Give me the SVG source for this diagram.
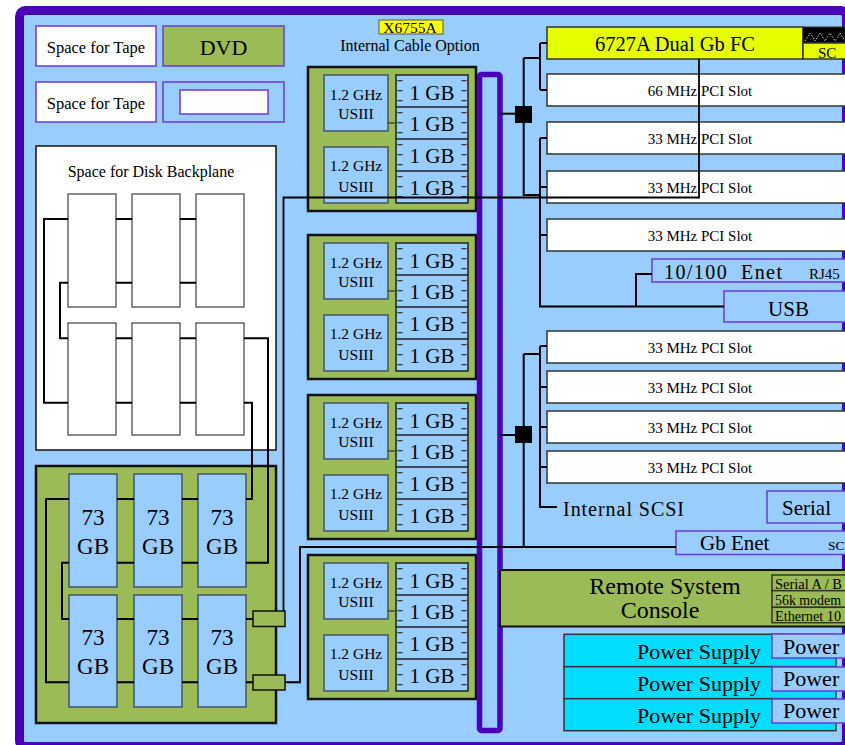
<svg xmlns="http://www.w3.org/2000/svg" width="845" height="745" viewBox="0 0 845 745">
<style>
text{font-family:"Liberation Serif","Times New Roman",serif;fill:#000}
.c{text-anchor:middle}
.e{text-anchor:end}
.pbox{fill:#99CCFF;stroke:#6A3AD8;stroke-width:1.5}
.wbox{fill:#fff;stroke:#6A3AD8;stroke-width:1.5}
.board{fill:#9BBB59;stroke:#111;stroke-width:2.5}
.cpu{fill:#99CCFF;stroke:#46546A;stroke-width:1.5}
.mem{fill:#99CCFF;stroke:#222;stroke-width:1.5}
.div{stroke:#222;stroke-width:1.5;fill:none}
.tick{stroke:#333;stroke-width:5;stroke-dasharray:1.2 8.8 1.2 8.8 1.2 10.8}
.slot{fill:#fff;stroke:#333;stroke-width:1.5}
.disk{fill:#99CCFF;stroke:#46546A;stroke-width:1.5}
.bay{fill:#fff;stroke:#666;stroke-width:1.5}
.ln{fill:none;stroke:#000;stroke-width:2}
.ps{fill:#00DDFF;stroke:#333;stroke-width:1.5}
.sub{fill:#9BBB59;stroke:#333;stroke-width:1.5}
.cpt{font-size:15.5px}
.gb{font-size:21px}
.st{font-size:15px}
</style>

<rect id="frame" x="19.5" y="10.5" width="827" height="736" rx="6" fill="#99CCFF" stroke="#4A00B8" stroke-width="9"/>

<g id="tape1"><rect class="wbox" x="36" y="26" width="120" height="40"/><text class="c" x="96" y="53" font-size="16.5">Space for Tape</text></g>
<g id="dvd"><rect x="163" y="26" width="121" height="40" fill="#9BBB59" stroke="#6A3AD8" stroke-width="1.5"/><text class="c" x="223.5" y="55" font-size="22">DVD</text></g>
<g id="tape2"><rect class="wbox" x="36" y="82" width="120" height="40"/><text class="c" x="96" y="109" font-size="16.5">Space for Tape</text></g>
<g id="bay2"><rect class="pbox" x="163" y="82" width="121" height="40"/><rect class="wbox" x="180" y="90" width="88" height="24"/></g>

<g id="x6755a"><rect x="379" y="20" width="64" height="14" fill="#FFFF00" stroke="#555" stroke-width="1"/><text class="c" x="410" y="33" font-size="15.5">X6755A</text><text class="c" x="410" y="51" font-size="16">Internal Cable Option</text></g>

<g id="backplane">
<rect x="36" y="146" width="240" height="304" fill="#fff" stroke="#111" stroke-width="1.5"/>
<text class="c" x="151" y="177" font-size="16">Space for Disk Backplane</text>
<rect class="bay" x="68" y="194" width="48" height="113"/><rect class="bay" x="132" y="194" width="48" height="113"/><rect class="bay" x="196" y="194" width="48" height="113"/>
<rect class="bay" x="68" y="323" width="48" height="112"/><rect class="bay" x="132" y="323" width="48" height="112"/><rect class="bay" x="196" y="323" width="48" height="112"/>
</g>

<g id="diskboard">
<rect class="board" x="36" y="466" width="240" height="257" stroke-width="2"/>
<rect class="disk" x="69" y="474" width="48" height="113"/><rect class="disk" x="134" y="474" width="48" height="113"/><rect class="disk" x="198" y="474" width="48" height="113"/>
<rect class="disk" x="69" y="595" width="48" height="112"/><rect class="disk" x="134" y="595" width="48" height="112"/><rect class="disk" x="198" y="595" width="48" height="112"/>
<g font-size="23">
<text class="c" x="93" y="525">73</text><text class="c" x="93" y="554">GB</text>
<text class="c" x="158" y="525">73</text><text class="c" x="158" y="554">GB</text>
<text class="c" x="222" y="525">73</text><text class="c" x="222" y="554">GB</text>
<text class="c" x="93" y="645">73</text><text class="c" x="93" y="674">GB</text>
<text class="c" x="158" y="645">73</text><text class="c" x="158" y="674">GB</text>
<text class="c" x="222" y="645">73</text><text class="c" x="222" y="674">GB</text>
</g>
<rect x="253" y="611" width="32" height="15.5" fill="#9BBB59" stroke="#111" stroke-width="1.5"/>
<rect x="253" y="675" width="32" height="15" fill="#9BBB59" stroke="#111" stroke-width="1.5"/>
</g>

<g id="cpuboard1">
<rect class="board" x="308" y="67" width="168" height="144"/>
<rect class="cpu" x="324" y="75" width="64" height="56"/><rect class="cpu" x="324" y="147" width="64" height="56"/>
<line x1="388" y1="123" x2="396" y2="123" stroke="#333" stroke-width="1.2"/>
<rect class="mem" x="396" y="75" width="72" height="128"/>
<path class="div" d="M396 107H468M396 139H468M396 171H468"/>
<line class="tick" x1="400" y1="80" x2="400" y2="203"/><line class="tick" x1="464" y1="80" x2="464" y2="203"/>
<text class="c cpt" x="356" y="100">1.2 GHz</text><text class="c cpt" x="356" y="119">USIII</text>
<text class="c cpt" x="356" y="171">1.2 GHz</text><text class="c cpt" x="356" y="191.5">USIII</text>
<text class="c gb" x="432" y="100">1 GB</text><text class="c gb" x="432" y="131">1 GB</text><text class="c gb" x="432" y="163">1 GB</text><text class="c gb" x="432" y="195">1 GB</text>
</g>

<g id="cpuboard2">
<rect class="board" x="308" y="235" width="168" height="144"/>
<rect class="cpu" x="324" y="243" width="64" height="56"/><rect class="cpu" x="324" y="315" width="64" height="56"/>
<line x1="388" y1="291" x2="396" y2="291" stroke="#333" stroke-width="1.2"/>
<rect class="mem" x="396" y="243" width="72" height="128"/>
<path class="div" d="M396 275H468M396 307H468M396 339H468"/>
<line class="tick" x1="400" y1="248" x2="400" y2="371"/><line class="tick" x1="464" y1="248" x2="464" y2="371"/>
<text class="c cpt" x="356" y="268">1.2 GHz</text><text class="c cpt" x="356" y="287">USIII</text>
<text class="c cpt" x="356" y="339">1.2 GHz</text><text class="c cpt" x="356" y="359.5">USIII</text>
<text class="c gb" x="432" y="268">1 GB</text><text class="c gb" x="432" y="299">1 GB</text><text class="c gb" x="432" y="331">1 GB</text><text class="c gb" x="432" y="363">1 GB</text>
</g>

<g id="cpuboard3">
<rect class="board" x="308" y="395" width="168" height="144"/>
<rect class="cpu" x="324" y="403" width="64" height="56"/><rect class="cpu" x="324" y="475" width="64" height="56"/>
<line x1="388" y1="451" x2="396" y2="451" stroke="#333" stroke-width="1.2"/>
<rect class="mem" x="396" y="403" width="72" height="128"/>
<path class="div" d="M396 435H468M396 467H468M396 499H468"/>
<line class="tick" x1="400" y1="408" x2="400" y2="531"/><line class="tick" x1="464" y1="408" x2="464" y2="531"/>
<text class="c cpt" x="356" y="428">1.2 GHz</text><text class="c cpt" x="356" y="447">USIII</text>
<text class="c cpt" x="356" y="499">1.2 GHz</text><text class="c cpt" x="356" y="519.5">USIII</text>
<text class="c gb" x="432" y="428">1 GB</text><text class="c gb" x="432" y="459">1 GB</text><text class="c gb" x="432" y="491">1 GB</text><text class="c gb" x="432" y="523">1 GB</text>
</g>

<g id="cpuboard4">
<rect class="board" x="308" y="555" width="168" height="144"/>
<rect class="cpu" x="324" y="563" width="64" height="56"/><rect class="cpu" x="324" y="635" width="64" height="56"/>
<line x1="388" y1="611" x2="396" y2="611" stroke="#333" stroke-width="1.2"/>
<rect class="mem" x="396" y="563" width="72" height="128"/>
<path class="div" d="M396 595H468M396 627H468M396 659H468"/>
<line class="tick" x1="400" y1="568" x2="400" y2="691"/><line class="tick" x1="464" y1="568" x2="464" y2="691"/>
<text class="c cpt" x="356" y="588">1.2 GHz</text><text class="c cpt" x="356" y="607">USIII</text>
<text class="c cpt" x="356" y="659">1.2 GHz</text><text class="c cpt" x="356" y="679.5">USIII</text>
<text class="c gb" x="432" y="588">1 GB</text><text class="c gb" x="432" y="619">1 GB</text><text class="c gb" x="432" y="651">1 GB</text><text class="c gb" x="432" y="683">1 GB</text>
</g>

<g id="bus"><rect x="479.5" y="74.5" width="20.5" height="656" rx="2" fill="none" stroke="#4A00B8" stroke-width="5.5"/></g>

<g id="fc">
<rect x="547" y="27" width="256" height="32" fill="#E6FF00" stroke="#333" stroke-width="1.5"/>
<text class="c" x="675" y="51" font-size="20.5">6727A Dual Gb FC</text>
</g>
<g id="sc-top">
<rect x="803" y="27" width="45" height="16" fill="#000" stroke="#333" stroke-width="1"/>
<path d="M805 41L810 33L815 41L820 33L825 41L830 33L835 41L840 33L845 41" fill="none" stroke="#fff" stroke-width="0.8" stroke-dasharray="1.5 1.5"/>
<rect x="803" y="43" width="45" height="16" fill="#E6FF00" stroke="#333" stroke-width="1.5"/>
<text x="818" y="57.5" font-size="15">SC</text>
</g>

<g id="slot66"><rect class="slot" x="547" y="74" width="300" height="32"/><text class="c st" x="700" y="95.5">66 MHz PCI Slot</text></g>
<g id="slot33a"><rect class="slot" x="547" y="122" width="300" height="32"/><text class="c st" x="700" y="143.5">33 MHz PCI Slot</text></g>
<g id="slot33b"><rect class="slot" x="547" y="171" width="300" height="32"/><text class="c st" x="700" y="192.5">33 MHz PCI Slot</text></g>
<g id="slot33c"><rect class="slot" x="547" y="219" width="300" height="32"/><text class="c st" x="700" y="240.5">33 MHz PCI Slot</text></g>

<g id="enet100"><rect class="pbox" x="652" y="259" width="200" height="23"/><text x="664" y="279" font-size="20" textLength="118" lengthAdjust="spacing" xml:space="preserve">10/100  Enet</text><text x="809" y="279" font-size="15">RJ45</text></g>
<g id="usb"><rect class="pbox" x="724" y="291" width="130" height="31"/><text class="c" x="788.5" y="316" font-size="21">USB</text></g>

<g id="slot33d"><rect class="slot" x="547" y="331" width="300" height="32"/><text class="c st" x="700" y="352.5">33 MHz PCI Slot</text></g>
<g id="slot33e"><rect class="slot" x="547" y="371" width="300" height="32"/><text class="c st" x="700" y="392.5">33 MHz PCI Slot</text></g>
<g id="slot33f"><rect class="slot" x="547" y="411" width="300" height="32"/><text class="c st" x="700" y="432.5">33 MHz PCI Slot</text></g>
<g id="slot33g"><rect class="slot" x="547" y="451" width="300" height="32"/><text class="c st" x="700" y="472.5">33 MHz PCI Slot</text></g>

<g id="iscsi"><text x="563" y="516" font-size="20" textLength="121" lengthAdjust="spacing">Internal SCSI</text></g>
<g id="serial"><rect class="pbox" x="767" y="491" width="90" height="32"/><text x="782" y="515" font-size="21">Serial</text></g>
<g id="gbenet"><rect class="pbox" x="676" y="531" width="180" height="23.5"/><text x="700" y="550" font-size="21">Gb Enet</text><text x="828" y="550" font-size="13.5">SC</text></g>

<g id="rsc">
<rect x="500" y="570" width="352" height="56.5" fill="#9BBB59" stroke="#111" stroke-width="2"/>
<text class="c" x="665" y="594" font-size="24">Remote System</text>
<text class="c" x="660" y="617.5" font-size="24">Console</text>
<rect class="sub" x="772" y="575" width="80" height="15.7"/>
<rect class="sub" x="772" y="590.7" width="80" height="16.6"/>
<rect class="sub" x="772" y="607.3" width="80" height="15.4"/>
<text x="775" y="589" font-size="15" textLength="67" lengthAdjust="spacingAndGlyphs">Serial A / B</text>
<text x="775" y="605" font-size="15" textLength="66" lengthAdjust="spacingAndGlyphs">56k modem</text>
<text x="775" y="620.5" font-size="15" textLength="66" lengthAdjust="spacingAndGlyphs">Ethernet 10</text>
</g>

<g id="ps1"><rect class="ps" x="564" y="634.3" width="272" height="32.4"/><text class="e" x="761" y="659" font-size="22">Power Supply</text></g>
<g id="ps2"><rect class="ps" x="564" y="666.7" width="272" height="32"/><text class="e" x="761" y="691" font-size="22">Power Supply</text></g>
<g id="ps3"><rect class="ps" x="564" y="698.7" width="272" height="32"/><text class="e" x="761" y="723" font-size="22">Power Supply</text></g>
<g id="pw1"><rect class="pbox" x="772" y="634" width="80" height="24"/><text x="783" y="654" font-size="22">Power</text></g>
<g id="pw2"><rect class="pbox" x="772" y="667" width="80" height="24"/><text x="783" y="686" font-size="22">Power</text></g>
<g id="pw3"><rect class="pbox" x="772" y="699" width="80" height="24"/><text x="783" y="718" font-size="22">Power</text></g>

<g id="hub1"><rect x="515" y="106" width="17" height="17" fill="#000"/></g>
<g id="hub2"><rect x="515" y="426" width="17" height="17" fill="#000"/></g>

<g id="connectors" class="ln">
<path d="M500 113.7H515"/>
<path d="M523.7 58V195H540"/>
<path d="M523.7 58H540M540 43V90M540 43H547M540 90H547"/>
<path d="M540 138V306.5H724M540 138H547M540 187H547M540 235H547"/>
<path d="M636 306.5V274H652"/>
<path d="M699 59V197.5H283.5V611" stroke-width="1.8"/>
<path d="M500 435H515"/>
<path d="M523.7 354V547M523.7 354H540M540 346V507H557M540 346H547M540 387H547M540 427H547M540 467H547"/>
<path d="M676 547H300V682.3H285"/>
<path d="M68 219H44V402.7H68M116 219H132M180 219H196"/>
<path d="M68 282.7H60V338.3H68M116 282.7H132M180 282.7H196"/>
<path d="M116 338.3H132M180 338.3H196M244 338.3H268V562.7H246"/>
<path d="M116 402.7H132M180 402.7H196M244 402.7H252V499H246"/>
<path d="M69 499H46V682.3H69M117 499H134M182 499H198"/>
<path d="M69 562.7H62V619H69M117 562.7H134M182 562.7H198"/>
<path d="M117 619H134M182 619H198M246 619H253"/>
<path d="M117 682.3H134M182 682.3H198M246 682.3H253"/>
</g>
</svg>
